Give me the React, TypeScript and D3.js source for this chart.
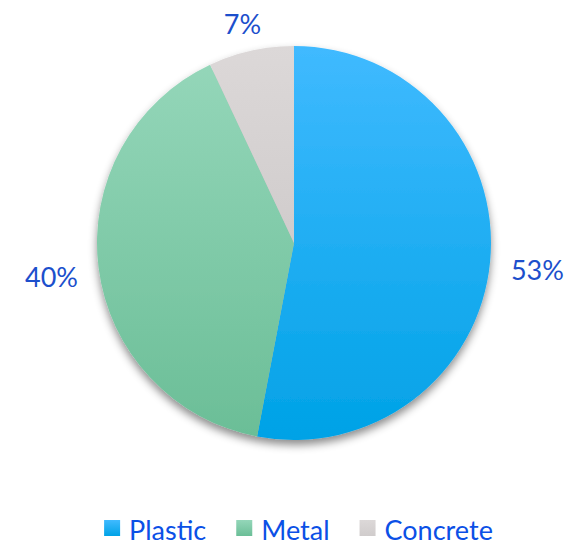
import { useEffect, useRef } from 'react';
import * as d3 from 'd3';

const categories = ['Plastic', 'Metal', 'Concrete'];
const values = [53, 40, 7];
const labels = ['53%', '40%', '7%'];
const gradients: [string, string][] = [
  ['#40baff', '#00a2e6'],
  ['#94d6b9', '#6bbe97'],
  ['#dcd8d8', '#d0cccc'],
];

const width = 581;
const height = 545;

export default function App() {
  const svgRef = useRef<SVGSVGElement>(null);

  useEffect(() => {
    if (!svgRef.current) return;
    const svg = d3.select(svgRef.current);
    svg.selectAll('*').remove();

    const cx = 294;
    const cy = 243;
    const radius = 197;
    const labelRadius = 218;

    const defs = svg.append('defs');
    gradients.forEach(([top, bottom], i) => {
      const g = defs.append('linearGradient')
        .attr('id', `grad-${i}`)
        .attr('x1', '0%').attr('y1', '0%')
        .attr('x2', '0%').attr('y2', '100%');
      g.append('stop').attr('offset', '0%').attr('stop-color', top);
      g.append('stop').attr('offset', '100%').attr('stop-color', bottom);
    });

    const filter = defs.append('filter')
      .attr('id', 'shadow')
      .attr('x', '-20%').attr('y', '-20%')
      .attr('width', '140%').attr('height', '140%');
    filter.append('feDropShadow')
      .attr('dx', 0).attr('dy', 5)
      .attr('stdDeviation', 4)
      .attr('flood-color', '#000')
      .attr('flood-opacity', 0.45);

    const pie = d3.pie<number>().sort(null).value(d => d);
    const arcs = pie(values);
    const arc = d3.arc<d3.PieArcDatum<number>>().innerRadius(0).outerRadius(radius);

    const g = svg.append('g').attr('transform', `translate(${cx}, ${cy})`);

    const slices = g.append('g').attr('filter', 'url(#shadow)');
    slices.selectAll('path')
      .data(arcs)
      .enter()
      .append('path')
      .attr('d', arc)
      .attr('fill', (_, i) => `url(#grad-${i})`);

    // Percentage labels outside each slice
    const font = 'Lato, "Open Sans", sans-serif';
    arcs.forEach((a, i) => {
      const mid = (a.startAngle + a.endAngle) / 2;
      const sx = Math.sin(mid);
      const sy = -Math.cos(mid);
      const t = g.append('text')
        .attr('font-family', font)
        .attr('font-size', 27)
        .attr('fill', '#1c4fcc')
        .attr('text-anchor', 'middle')
        .attr('dominant-baseline', 'central')
        .text(labels[i]);
      const w = (t.node() as SVGTextElement).getComputedTextLength();
      const h = 24;
      t.attr('x', sx * labelRadius + sx * w / 2)
        .attr('y', sy * labelRadius + sy * h / 2 + 5);
    });

    // Legend
    const legend = svg.append('g');
    const box = 16;
    const boxGap = 9;
    const itemGap = 30;
    let x = 0;
    categories.forEach((c, i) => {
      const item = legend.append('g').attr('transform', `translate(${x}, 0)`);
      item.append('rect')
        .attr('x', 0).attr('y', -box / 2)
        .attr('width', box).attr('height', box)
        .attr('fill', `url(#grad-${i})`);
      const t = item.append('text')
        .attr('x', box + boxGap)
        .attr('y', 1)
        .attr('dominant-baseline', 'central')
        .attr('font-family', font)
        .attr('font-size', 27)
        .attr('fill', '#0b50e6')
        .text(c);
      const w = (t.node() as SVGTextElement).getComputedTextLength();
      x += box + boxGap + w + itemGap;
    });
    const total = x - itemGap;
    legend.attr('transform', `translate(${(width - total) / 2 + 8}, 528)`);
  }, []);

  return (
    <svg
      ref={svgRef}
      width={width}
      height={height}
      style={{ position: 'absolute', left: 0, top: 0, background: '#fff' }}
    />
  );
}
